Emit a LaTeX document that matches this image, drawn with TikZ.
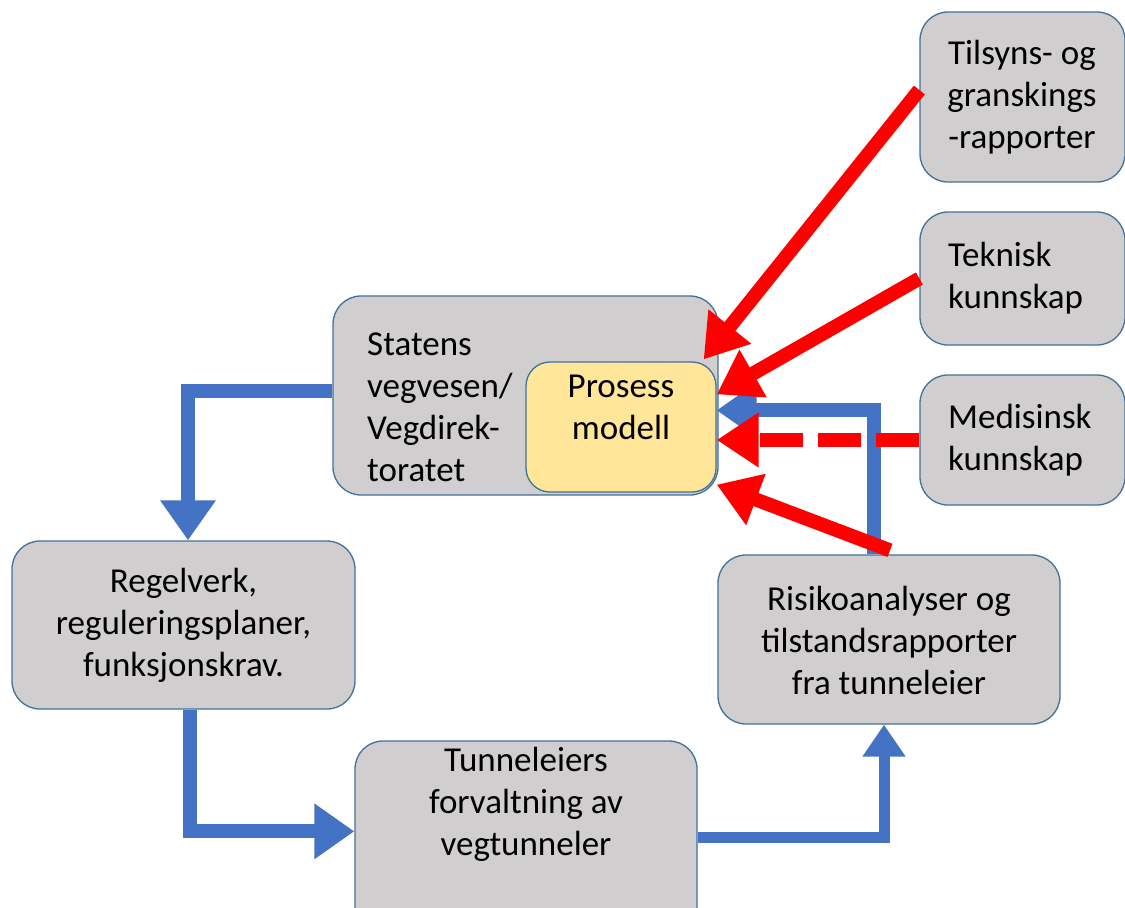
\documentclass[tikz,border=0pt]{standalone}
\usepackage{fontspec}
\setmainfont{Carlito}
\usetikzlibrary{arrows.meta,calc}
\definecolor{boxgray}{HTML}{D0CECE}
\definecolor{boxline}{HTML}{41719C}
\definecolor{pmfill}{HTML}{FFE699}
\definecolor{flowblue}{HTML}{4472C4}
\definecolor{flowred}{HTML}{FF0000}
\begin{document}
\begin{tikzpicture}[x=1pt,y=-1pt,
  box/.style={draw=boxline,line width=1.3pt,fill=boxgray,rounded corners=28pt,inner sep=0pt},
  pmbox/.style={draw=boxline,line width=1.3pt,fill=pmfill,rounded corners=24pt,inner sep=0pt},
  txt/.style={font=\fontsize{35}{42}\selectfont,text=black,inner sep=0pt},
  bluearrow/.style={draw=flowblue,line width=14pt,line join=miter,-{Triangle[length=40pt,width=53pt]}},
  bluesmall/.style={draw=flowblue,line width=11pt,line join=miter,-{Triangle[length=32pt,width=41pt]}},
  redarrow/.style={draw=flowred,line width=14pt,-{Triangle[length=42pt,width=52pt]}},
]
\useasboundingbox (0,0) rectangle (1125,908);
% boxes
\node[box,minimum width=205pt,minimum height=170pt] (tils) at (1022.5,97) {};
\node[txt,align=center] (tilst) at (1022,97) {Tilsyns- og\\granskings\\-rapporter};
\node[box,minimum width=205pt,minimum height=133pt] (tek) at (1022.5,278.5) {};
\node[txt,align=left,anchor=west] (tekt) at (948,278) {Teknisk\\kunnskap};
\node[box,minimum width=205pt,minimum height=130pt] (med) at (1022.5,440) {};
\node[txt,align=left,anchor=west] (medt) at (948,440) {Medisinsk\\kunnskap};
\node[box,minimum width=385pt,minimum height=199pt] (svv) at (525.5,395.5) {};
\node[txt,align=left,anchor=west] (svvt) at (367,407) {Statens\\vegvesen/\\Vegdirek-\\toratet};
\node[pmbox,minimum width=190pt,minimum height=130pt] (pm) at (621,427) {};
\node[txt,align=center] (pmt) at (621,407) {Prosess\\modell};
\node[box,minimum width=343pt,minimum height=168pt] (reg) at (183.5,625) {};
\node[txt,align=center] (regt) at (183.5,625.5) {Regelverk,\\reguleringsplaner,\\funksjonskrav.};
\node[box,minimum width=342pt,minimum height=210pt] (tun) at (526,846) {};
\node[txt,align=center] (tunt) at (526,804) {Tunneleiers\\forvaltning av\\vegtunneler};
\node[box,minimum width=342pt,minimum height=169pt] (risk) at (889,639.5) {};
\node[txt,align=center] (riskt) at (889,640) {Risikoanalyser og\\tilstandsrapporter\\fra tunneleier};
% blue flow
\draw[bluearrow] ($(svv.west)+(0,-4.5)$) -| ($(reg.north)+(4.5,0)$);
\draw[bluearrow] ($(reg.south)+(6.5,0)$) |- ($(tun.north west)+(0,91)$);
\draw[bluesmall] ($(tun.north east)+(0,97)$) -| ($(risk.south)+(-5,0)$);
\draw[bluearrow] ($(risk.north)+(-15,0)$) |- ($(pm.north east)+(0,49)$);
% red inputs
\draw[redarrow] ($(tils.west)+(0,-7)$) -- ($(pm.north east)+(-13,-2)$);
\draw[redarrow] (tek.west) -- ($(pm.north east)+(0,33)$);
\draw[redarrow,dash pattern=on 43pt off 15pt] (med.west) -- (pm.east |- med.west);
\draw[redarrow] ($(risk.north)+(1,-4)$) -- ($(pm.south east)+(0,-8)$);
\end{tikzpicture}
\end{document}
